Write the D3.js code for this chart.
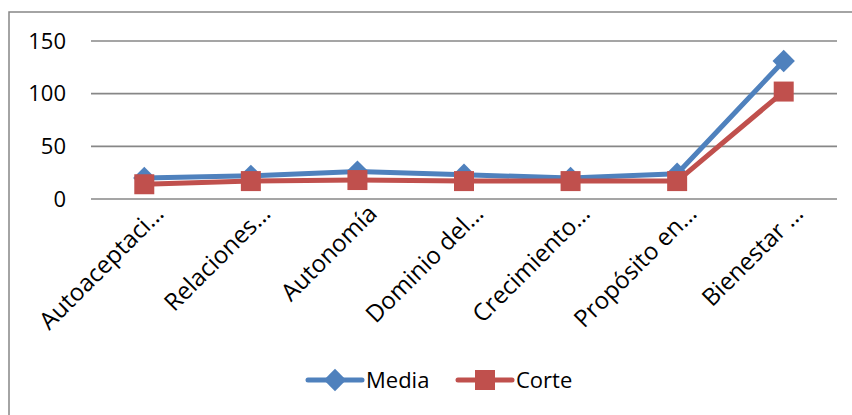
<!DOCTYPE html>
<html>
<head>
<meta charset="utf-8">
<script src="https://cdn.jsdelivr.net/npm/d3@7"></script>
<style>
  html, body { margin: 0; padding: 0; background: #fff; }
  svg { display: block; font-family: "Open Sans", sans-serif; }
</style>
</head>
<body>
<svg id="chart" width="852" height="415"></svg>
<script>
// Categories (truncated labels as shown on the axis)
const categories = ["Autoaceptaci…", "Relaciones…", "Autonomía", "Dominio del…", "Crecimiento…", "Propósito en…", "Bienestar …"];
// Series values
const media = [20, 22, 26, 23, 20, 24, 131];
const corte = [14, 17, 18, 17, 17, 17, 102];
// Y-axis ticks
const yTicks = [0, 50, 100, 150];

const seriesNames = ["Media", "Corte"];
const colors = { Media: "#4F81BD", Corte: "#C0504D" };

const svg = d3.select("#chart");

// Outer chart frame
svg.append("rect")
  .attr("x", 9).attr("y", 12)
  .attr("width", 880).attr("height", 440)
  .attr("fill", "#fff")
  .attr("stroke", "#868686").attr("stroke-width", 1.5);

const x = d3.scaleBand().domain(categories).range([91, 837]);
const y = d3.scaleLinear().domain([0, 150]).range([199, 41]);

// Horizontal gridlines
svg.append("g")
  .selectAll("line")
  .data(yTicks)
  .join("line")
  .attr("x1", 91).attr("x2", 837)
  .attr("y1", d => y(d)).attr("y2", d => y(d))
  .attr("stroke", "#878787").attr("stroke-width", 1.6);

// Y axis labels
const yAxis = svg.append("g")
  .attr("transform", "translate(66,0)")
  .call(d3.axisLeft(y).tickValues(yTicks).tickSize(0).tickPadding(0));
yAxis.select(".domain").remove();
yAxis.selectAll("text")
  .attr("font-family", "Open Sans")
  .attr("font-size", 22)
  .attr("fill", "#000");

// X axis labels, rotated
const xAxis = svg.append("g")
  .attr("transform", "translate(0,199)")
  .call(d3.axisBottom(x).tickSize(0).tickPadding(0));
xAxis.select(".domain").remove();
xAxis.selectAll("text")
  .attr("font-family", "Open Sans")
  .attr("font-size", 24)
  .attr("fill", "#000")
  .attr("text-anchor", "end")
  .attr("y", 0)
  .attr("dy", 0)
  .attr("transform", "translate(21,16) rotate(-45)");

const line = d3.line()
  .x((d, i) => x(categories[i]) + x.bandwidth() / 2)
  .y(d => y(d));

const data = { Media: media, Corte: corte };

// Marker shapes: rotated square for Media, square for Corte
function markerPath(name) {
  return name === "Media"
    ? d3.symbol().type(d3.symbolSquare).size(250)()
    : d3.symbol().type(d3.symbolSquare).size(400)();
}
function markerRot(name) { return name === "Media" ? " rotate(45)" : ""; }

seriesNames.forEach(name => {
  const vals = data[name];
  const g = svg.append("g");
  g.append("path")
    .datum(vals)
    .attr("d", line)
    .attr("fill", "none")
    .attr("stroke", colors[name])
    .attr("stroke-width", 5)
    .attr("stroke-linejoin", "round");
  g.selectAll("path.marker")
    .data(vals)
    .join("path")
    .attr("class", "marker")
    .attr("d", markerPath(name))
    .attr("transform", (d, i) => `translate(${x(categories[i]) + x.bandwidth() / 2},${y(d)})${markerRot(name)}`)
    .attr("fill", colors[name]);
});

// Legend
const legend = svg.append("g").attr("transform", "translate(0,380)");
const legendItems = [
  { name: "Media", x0: 308, x1: 362, tx: 366 },
  { name: "Corte", x0: 458, x1: 512, tx: 516 }
];
legendItems.forEach(it => {
  legend.append("line")
    .attr("x1", it.x0).attr("x2", it.x1)
    .attr("y1", 0).attr("y2", 0)
    .attr("stroke", colors[it.name]).attr("stroke-width", 5)
    .attr("stroke-linecap", "round");
  legend.append("path")
    .attr("d", markerPath(it.name))
    .attr("transform", `translate(${(it.x0 + it.x1) / 2},0)${markerRot(it.name)}`)
    .attr("fill", colors[it.name]);
  legend.append("text")
    .attr("x", it.tx).attr("y", 0)
    .attr("dy", "0.35em")
    .attr("font-family", "Open Sans")
    .attr("font-size", 22)
    .attr("fill", "#000")
    .text(it.name);
});
</script>
</body>
</html>
